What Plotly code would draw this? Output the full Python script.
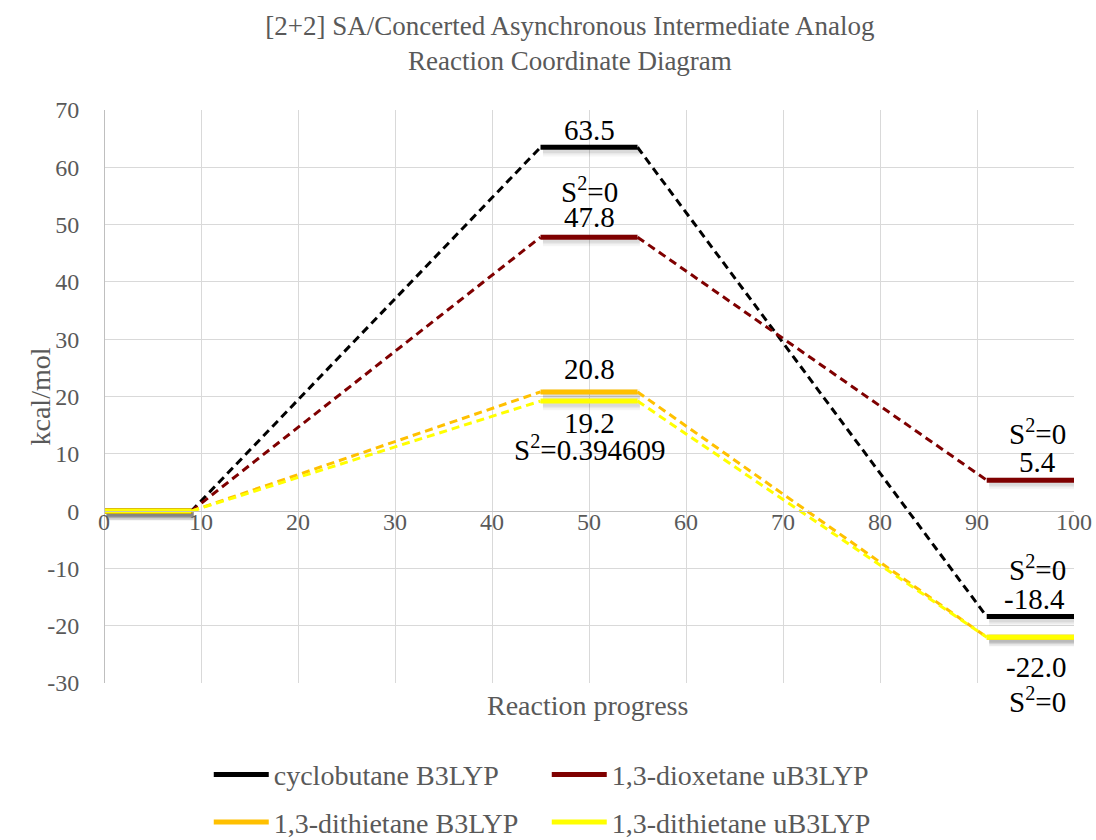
import plotly.graph_objects as go

# ---- data ----
x_stages = [0, 9, 45, 55, 91, 100]
series_names = ["cyclobutane B3LYP", "1,3-dioxetane uB3LYP", "1,3-dithietane B3LYP", "1,3-dithietane uB3LYP"]
cyclobutane = [0, 0, 63.5, 63.5, -18.4, -18.4]
dioxetane_u = [0, 0, 47.8, 47.8, 5.4, 5.4]
dithietane_b = [0, 0, 20.8, 20.8, -22.0, -22.0]
dithietane_u = [0, 0, 19.2, 19.2, -22.0, -22.0]
colors = ["#000000", "#7F0000", "#FFC000", "#FFFF00"]
x_ticks = [0, 10, 20, 30, 40, 50, 60, 70, 80, 90, 100]
y_ticks = [-30, -20, -10, 0, 10, 20, 30, 40, 50, 60, 70]
y_tick_text = ["-30", "-20", "-10", "0", "10", "20", "30", "40", "50", "60", "70"]

all_series = [cyclobutane, dioxetane_u, dithietane_b, dithietane_u]

FONT = "Liberation Serif"
GRAY = "#595959"

fig = go.Figure()

solid_segs = [(0, 1), (2, 3), (4, 5)]
dash_segs = [(1, 2), (3, 4)]

# soft shadows (drawn on base axes whose range is slightly shifted)
for ys in all_series:
    for a, b in solid_segs:
        for w, op in [(12, 0.04), (8, 0.05), (5, 0.06)]:
            fig.add_trace(go.Scatter(x=x_stages[a:b + 1], y=ys[a:b + 1], mode="lines",
                                     line=dict(color="rgba(0,0,0,%s)" % op, width=w),
                                     showlegend=False, hoverinfo="skip", xaxis="x", yaxis="y"))

for name, ys, col in zip(series_names, all_series, colors):
    for a, b in dash_segs:
        fig.add_trace(go.Scatter(x=x_stages[a:b + 1], y=ys[a:b + 1], mode="lines",
                                 line=dict(color=col, width=3, dash="8px,5px"),
                                 showlegend=False, hoverinfo="skip", xaxis="x2", yaxis="y2"))
    for a, b in solid_segs:
        fig.add_trace(go.Scatter(x=x_stages[a:b + 1], y=ys[a:b + 1], mode="lines",
                                 line=dict(color=col, width=5),
                                 showlegend=False, hoverinfo="skip", xaxis="x2", yaxis="y2"))

# legend-only traces
for i, (name, col) in enumerate(zip(series_names, colors)):
    fig.add_trace(go.Scatter(x=[None], y=[None], mode="lines", name=name,
                             line=dict(color=col, width=5), xaxis="x2", yaxis="y2",
                             legend="legend" if i < 2 else "legend2"))

# data labels (one annotation per text line)
lab_font = dict(family=FONT, size=29, color="#000000")
S2 = "S<sup>2</sup>=0"
labels = [
    (50, cyclobutane[2], "63.5", 0, 17),
    (50, dioxetane_u[2], S2, 0, 47),
    (50, dioxetane_u[2], "47.8", 0, 20),
    (50, dithietane_b[2], "20.8", 0, 23),
    (50, dithietane_u[2], "19.2", 0, -22),
    (50, dithietane_u[2], S2 + ".394609", 0, -47),
    (100, dioxetane_u[4], S2, -37, 48),
    (100, dioxetane_u[4], "5.4", -37, 18),
    (100, cyclobutane[4], S2, -37, 49),
    (100, cyclobutane[4], "-18.4", -40, 18),
    (100, dithietane_u[4], "-22.0", -38, -30),
    (100, dithietane_u[4], S2, -37, -63),
]
for x, y, t, dx, dy in labels:
    fig.add_annotation(x=x, y=y, xref="x2", yref="y2", text=t, showarrow=False,
                       xanchor="center", yanchor="middle", xshift=dx, yshift=dy,
                       borderpad=0, font=lab_font)

fig.add_annotation(x=(587 - 104) / 970, y=(683 - 705) / 573, xref="paper", yref="paper",
                   text="Reaction progress", showarrow=False, yanchor="middle",
                   font=dict(family=FONT, size=28, color=GRAY))
fig.add_annotation(x=(22 - 104) / 970, y=(683 - 397) / 573, xref="paper", yref="paper",
                   text="kcal/mol", showarrow=False, textangle=-90,
                   font=dict(family=FONT, size=28, color=GRAY))

fig.update_layout(
    width=1096, height=840,
    margin=dict(l=104, r=22, t=110, b=157, autoexpand=False),
    paper_bgcolor="white", plot_bgcolor="white",
    title=dict(text="[2+2] SA/Concerted Asynchronous Intermediate Analog<br>Reaction Coordinate Diagram",
               x=0.52, xanchor="center", y=0.958, yanchor="top",
               font=dict(family=FONT, size=27, color=GRAY)),
    # base axes: hidden, shifted a few pixels to cast the shadows
    xaxis=dict(range=[-0.25, 99.75], visible=False, showgrid=False, zeroline=False),
    yaxis=dict(range=[-29.45, 70.55], visible=False, showgrid=False, zeroline=False),
    xaxis2=dict(range=[0, 100], tickvals=x_ticks, overlaying="x", showgrid=True,
                gridcolor="#D9D9D9", gridwidth=1, zeroline=False, showline=True,
                linecolor="#BFBFBF", linewidth=1, anchor="free", position=0.3, ticks="",
                automargin=False, ticklabelstandoff=-11,
                tickfont=dict(family=FONT, size=24, color=GRAY)),
    yaxis2=dict(range=[-30, 70], tickvals=y_ticks, ticktext=y_tick_text, overlaying="y",
                anchor="free", position=0, side="left", showgrid=True,
                gridcolor="#D9D9D9", gridwidth=1, automargin=False,
                zeroline=False, showline=True, linecolor="#BFBFBF", linewidth=1, ticks="",
                ticklabelstandoff=20,
                tickfont=dict(family=FONT, size=24, color=GRAY)),
    legend=dict(orientation="h", x=0.108, xanchor="left", y=-0.16, yanchor="middle",
                font=dict(family=FONT, size=28, color=GRAY), itemwidth=55, entrywidth=268,
                bgcolor="rgba(0,0,0,0)"),
    legend2=dict(orientation="h", x=0.108, xanchor="left", y=-0.243, yanchor="middle",
                 font=dict(family=FONT, size=28, color=GRAY), itemwidth=55, entrywidth=268,
                 bgcolor="rgba(0,0,0,0)"),
)

fig.write_html("out.html", config={"displayModeBar": False},
               post_script="document.body.style.margin='0';")
